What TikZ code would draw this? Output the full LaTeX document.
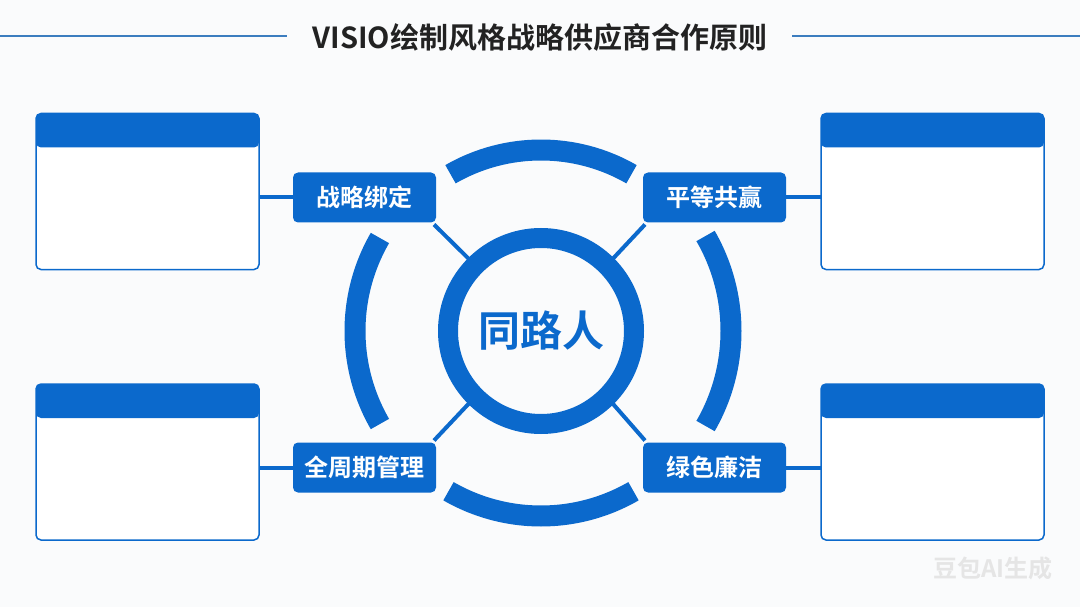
\documentclass[tikz,border=0pt]{standalone}
\usepackage{fontspec}
\newfontfamily\cjk{Noto Sans CJK SC}[BoldFont={Noto Sans CJK SC Bold}]
\usetikzlibrary{calc}
\definecolor{mainblue}{HTML}{0B69CC}
\definecolor{titlegray}{HTML}{222222}
\definecolor{lineblue}{HTML}{3C7DBF}
\definecolor{bgcol}{HTML}{FAFBFC}
\tikzset{
  panel/.style={draw=mainblue, line width=1.5pt, fill=white, rounded corners=5pt,
    minimum width=223pt, minimum height=156pt, inner sep=0pt, outer sep=0pt,
    path picture={\fill[mainblue] (path picture bounding box.north west) rectangle ([yshift=-34pt]path picture bounding box.north east);}},
  label/.style={fill=mainblue, rounded corners=5pt, minimum width=143pt, minimum height=50pt,
    inner sep=0pt, outer sep=0pt, text=white, font=\cjk\bfseries\fontsize{24}{28}\selectfont},
  conn/.style={draw=mainblue, line width=4pt},
  ring/.style={draw=mainblue, line width=20pt, circle, minimum size=186pt, inner sep=0pt, outer sep=0pt},
  arcseg/.style={draw=mainblue, line width=21pt},
  titleline/.style={draw=lineblue, line width=1.5pt}
}
\begin{document}
\begin{tikzpicture}[x=1pt,y=-1pt]
\fill[bgcol] (0,0) rectangle (1080,607);
\useasboundingbox (0,0) rectangle (1080,607);
% title
\node[font=\cjk\bfseries\fontsize{29}{34}\selectfont, text=titlegray, inner sep=0pt] (title) at (540,37) {VISIO绘制风格战略供应商合作原则};
\coordinate (tl0) at (0,36);
\coordinate (tl1) at (287,36);
\coordinate (tr0) at (792,36);
\coordinate (tr1) at (1080,36);
\draw[titleline] (tl0) -- (tl1);
\draw[titleline] (tr0) -- (tr1);
% panels
\node[panel] (p1) at (147.5,191.5) {};
\node[panel] (p2) at (932.5,191.5) {};
\node[panel] (p3) at (147.5,462) {};
\node[panel] (p4) at (932.5,462) {};
% labels
\node[label] (l1) at (364.5,197.5) {战略绑定};
\node[label] (l2) at (714.5,197.5) {平等共赢};
\node[label] (l3) at (364.5,467.5) {全周期管理};
\node[label] (l4) at (714.5,467.5) {绿色廉洁};
% center ring
\node[ring] (c) at (541,331) {};
\node[font=\cjk\bfseries\fontsize{42}{48}\selectfont, text=mainblue, inner sep=0pt] (ct) at (c) {同路人};
% connectors
\draw[conn] (l1.west) -- (l1.west -| p1.east);
\draw[conn] (l2.east) -- (l2.east -| p2.west);
\draw[conn] (l3.west) -- (l3.west -| p3.east);
\draw[conn] (l4.east) -- (l4.east -| p4.west);
\draw[conn] ([shift={(-2pt,-2pt)}]l1.south east) -- (c.135);
\draw[conn] ([shift={(2pt,-2pt)}]l2.south west) -- (c.45);
\draw[conn] ([shift={(-2pt,2pt)}]l3.north east) -- (c.225);
\draw[conn] ([shift={(2pt,2pt)}]l4.north west) -- (c.315);
% outer arcs
\draw[arcseg] (c.center) ++(60:181pt) arc[start angle=60, end angle=120, radius=181pt];
\draw[arcseg] (c.center) ++(240:185pt) arc[start angle=240, end angle=300, radius=185pt];
\draw[arcseg] (c.center) ++(150:186pt) arc[start angle=150, end angle=210, radius=186pt];
\draw[arcseg] (c.center) ++(-30:190pt) arc[start angle=-30, end angle=30, radius=190pt];
% watermark
\node[font=\cjk\bfseries\fontsize{24}{28}\selectfont, text=black!10, inner sep=0pt] (wm) at (993,568) {豆包AI生成};
\end{tikzpicture}
\end{document}
